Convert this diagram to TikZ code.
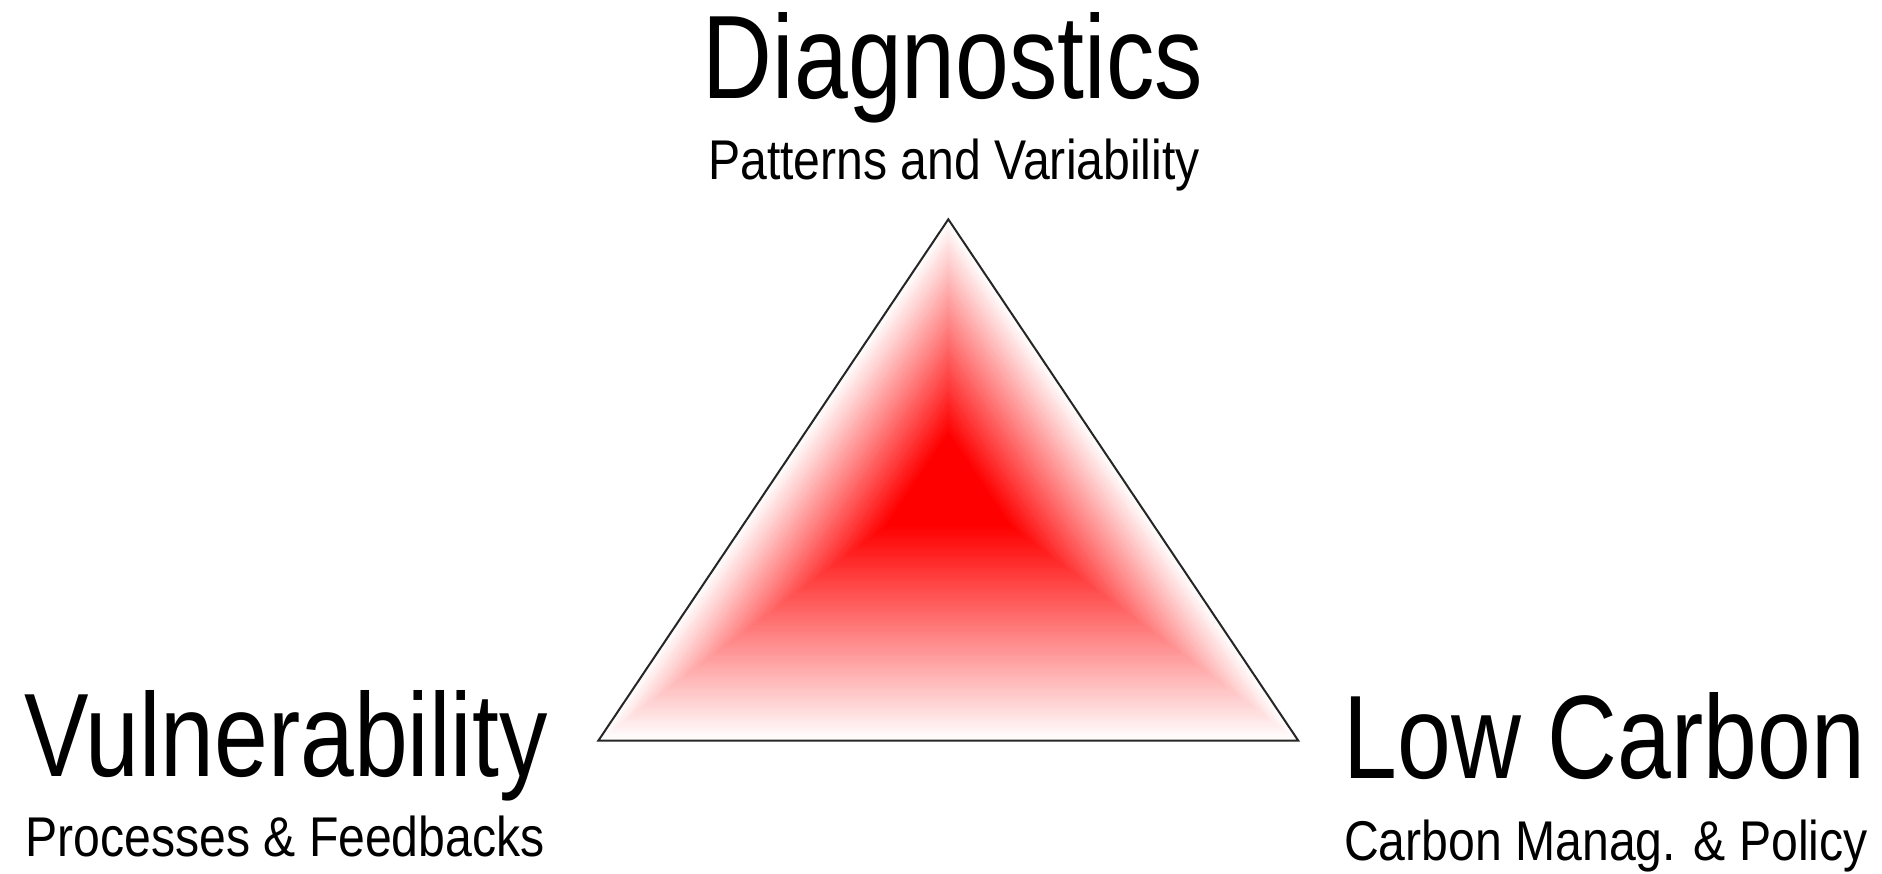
\documentclass[tikz,border=0pt]{standalone}
\usepackage{fontspec}
\usepackage{graphicx}
\setmainfont{Liberation Sans}
\usetikzlibrary{calc}
\tikzset{
  bigtitle/.style={inner sep=0pt, anchor=base, font=\fontsize{118.7}{120}\selectfont},
  subtitle/.style={inner sep=0pt, anchor=base, font=\fontsize{56}{60}\selectfont},
  outline/.style={draw=black!85, line width=2pt, line join=miter}
}
\newcommand\bigtxt[1]{\scalebox{0.815}[1]{#1}}
\newcommand\smalltxt[1]{\scalebox{0.86}[1]{#1}}
\begin{document}
\begin{tikzpicture}[x=1pt,y=-1pt]
\useasboundingbox (0,0) rectangle (1882,874);
\coordinate (A) at (948.3,219.3);
\coordinate (B) at (598.3,740.7);
\coordinate (D) at (1298.3,740.7);
\coordinate (C) at (948.3,480);
\foreach \k in {0,...,120}{
  \pgfmathsetmacro\s{1-\k/120*0.82}
  \pgfmathtruncatemacro\p{round(\k/120*100)}
  \fill[red!\p!white] ($(C)!\s!(A)$) -- ($(C)!\s!(B)$) -- ($(C)!\s!(D)$) -- cycle;
}
\draw[outline] (A) -- (B) -- (D) -- cycle;
\node[bigtitle] (diag) at (953,98.3) {\bigtxt{Diagnostics}};
\node[subtitle] (diagsub) at (954,180) {\smalltxt{Patterns and Variability}};
\node[bigtitle] (vuln) at (286,776.7) {\bigtxt{Vulnerability}};
\node[subtitle] (vulnsub) at (285,856.7) {\smalltxt{Processes \& Feedbacks}};
\node[bigtitle] (lowc) at (1604.5,778.3) {\bigtxt{Low Carbon}};
\node[subtitle] (lowcsub) at (1606,860) {\smalltxt{Carbon Manag. \& Policy}};
\end{tikzpicture}
\end{document}
